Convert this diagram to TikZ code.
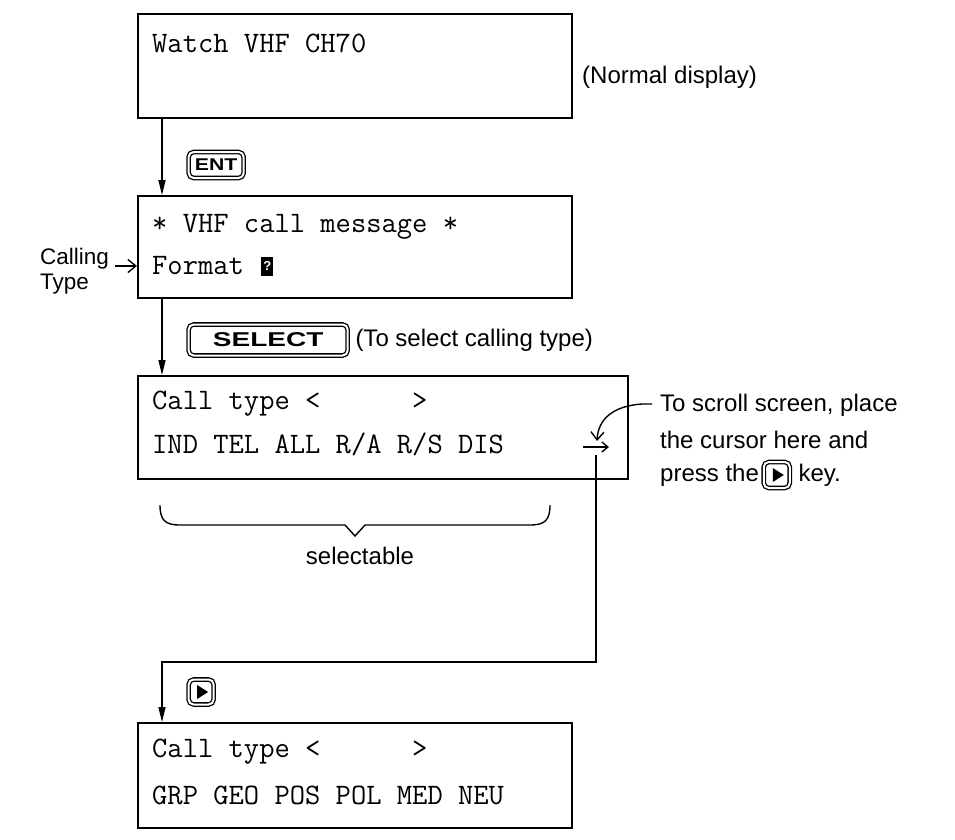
\documentclass[tikz,border=0pt]{standalone}
\usepackage{fontspec}
\setmainfont{Liberation Sans}
\usetikzlibrary{arrows.meta}
\begin{document}
\begin{tikzpicture}[x=1pt,y=-1pt,
 scr/.style={draw, line width=1.6pt, anchor=north west, inner sep=0},
 mono/.style={anchor=west, inner sep=0, font=\ttfamily\fontsize{29.7}{32}\selectfont\addfontfeature{FakeBold=1.5}},
 lbl/.style={anchor=west, inner sep=0, font=\fontsize{24}{28}\selectfont},
 sidelbl/.style={anchor=west, inner sep=0, font=\fontsize{22.5}{26}\selectfont},
 keyst/.style={draw, double, double distance=2pt, line width=1.3pt, rounded corners=5pt, inner sep=0, anchor=west, font=\bfseries\fontsize{17}{20}\selectfont\addfontfeature{FakeStretch=1.25}},
 arr/.style={line width=1.4pt, -{Triangle[length=15pt,width=7pt]}},
 openarr/.style={line width=1.4pt, -{Straight Barb[length=8pt,width=13pt]}}
]
\useasboundingbox (0,0) rectangle (955,839);
% screens
\node[scr, minimum width=434pt, minimum height=104pt] (b1) at (137,13) {};
\node[scr, minimum width=434pt, minimum height=102pt] (b2) at (137,195) {};
\node[scr, minimum width=490pt, minimum height=103pt] (b3) at (137,375) {};
\node[scr, minimum width=434pt, minimum height=105pt] (b4) at (137,722) {};
% screen texts
\node[mono] (t1) at (152,43) {Watch VHF CH70};
\node[mono] (t2) at (152,227) {* VHF call message *};
\node[mono] (t3) at (152,266) {Format};
\node[fill=black, text=white, minimum width=12pt, minimum height=19pt, inner sep=0, anchor=west, font=\bfseries\fontsize{13}{13}\selectfont] (cur) at ([xshift=17pt]t3.east) {?};
\node[mono] (t4) at (152,404) {Call type <\ \ \ \ \ \ >};
\node[mono] (t5) at (152,444) {IND TEL ALL R/A R/S DIS};
\node[mono] (t6) at (152,752) {Call type <\ \ \ \ \ \ >};
\node[mono] (t7) at (152,795) {GRP GEO POS POL MED NEU};
% labels
\node[lbl] (nd) at (582,77) {(Normal display)};
\node[sidelbl] (call) at (40,259) {Calling};
\node[sidelbl] (type) at (40,284) {Type};
\coordinate (cs) at ([xshift=6pt]call.east);
\draw[openarr] (cs |- t3.west) -- (b2.west |- t3.west);
% flow arrows and keys
\draw[arr] ([xshift=25pt]b1.south west) -- ([xshift=25pt]b2.north west);
\node[keyst, minimum width=55pt, minimum height=26pt] (ent) at (188,165) {ENT};
\draw[arr] ([xshift=25pt]b2.south west) -- ([xshift=25pt]b3.north west);
\node[keyst, minimum width=159pt, minimum height=31pt, font=\bfseries\fontsize{20}{22}\selectfont\addfontfeature{FakeStretch=1.4}] (sel) at (188,340) {SELECT};
\node[lbl] (selnote) at ([xshift=7pt]sel.east) {(To select calling type)};
% scroll arrow in screen 3
\coordinate (sa1) at (583,447);
\coordinate (sa2) at (609,447);
\draw[line width=1.4pt, -{Straight Barb[length=6pt,width=10pt]}] (sa1) -- (sa2);
\coordinate (cv0) at (652,404);
\draw[openarr] (cv0) -- ++(-10,0) .. controls (612,406) and (598,420) .. (597,441);
\node[lbl] (n1) at (660,405) {To scroll screen, place};
\node[lbl] (n2) at (660,440) {the cursor here and};
\node[lbl] (n3) at (660,475) {press the};
\node[keyst, minimum width=26pt, minimum height=26pt] (pk1) at ([xshift=4pt]n3.east) {};
\fill ([xshift=-4pt,yshift=7pt]pk1.center) -- ([xshift=-4pt,yshift=-7pt]pk1.center) -- ([xshift=7pt]pk1.center) -- cycle;
\node[lbl] (n4) at ([xshift=8pt]pk1.east) {key.};
% brace
\draw[line width=1.4pt] (160,505) .. controls (160,520) and (165,525) .. (180,525) -- (345,525) -- (355,536) -- (365,525) -- (530,525) .. controls (545,525) and (550,520) .. (550,505);
\node[lbl, anchor=center] (sl) at (360,556) {selectable};
% connector to screen 4
\coordinate (c1) at (596,455);
\coordinate (c2) at (596,662);
\draw[arr] (c1) -- (c2) -| ([xshift=25pt]b4.north west);
\node[keyst, minimum width=25pt, minimum height=25pt] (pk2) at (188,692) {};
\fill ([xshift=-4pt,yshift=7pt]pk2.center) -- ([xshift=-4pt,yshift=-7pt]pk2.center) -- ([xshift=7pt]pk2.center) -- cycle;
\end{tikzpicture}
\end{document}
